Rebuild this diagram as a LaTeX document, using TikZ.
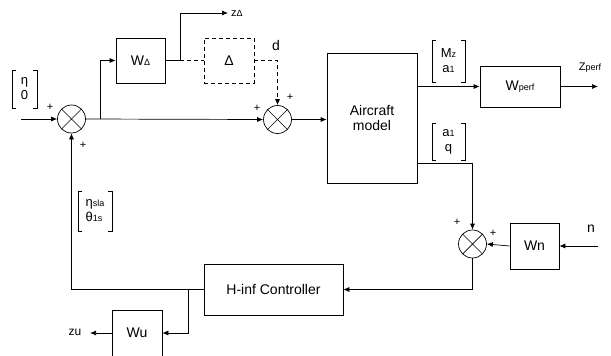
\documentclass[tikz,border=0pt]{standalone}
\usepackage{fontspec}
\setmainfont{Liberation Sans}
\usetikzlibrary{arrows.meta}
\newcommand\smsub[1]{{\fontsize{9}{9}\selectfont #1}}
\newcommand\brk[1]{%
  \draw[line width=0.6pt] ([xshift=4pt]#1.north west) -- (#1.north west) -- (#1.south west) -- ([xshift=4pt]#1.south west);
  \draw[line width=0.6pt] ([xshift=-4pt]#1.north east) -- (#1.north east) -- (#1.south east) -- ([xshift=-4pt]#1.south east);}
\begin{document}
\begin{tikzpicture}[x=1pt,y=-1pt,
  every node/.style={font=\fontsize{14}{15}\selectfont},
  blk/.style={draw,line width=0.7pt,inner sep=0pt},
  sum/.style={draw,circle,line width=0.7pt,minimum size=28pt,inner sep=0pt,
    path picture={\draw[line width=0.7pt] (path picture bounding box.north west) -- (path picture bounding box.south east)
      (path picture bounding box.north east) -- (path picture bounding box.south west);}},
  vec/.style={inner sep=0pt,align=center,font=\fontsize{13}{15}\selectfont},
  lbl/.style={inner sep=0pt,font=\fontsize{11}{12}\selectfont},
  wire/.style={line width=0.7pt},
  arr/.style={wire,-{Latex[length=6pt,width=5pt]}},
  dwire/.style={wire,dash pattern=on 4pt off 3pt}]
\useasboundingbox (0,0) rectangle (611,356);
% nodes
\node[sum] (s1) at (71.5,119) {};
\node[sum] (s2) at (277.5,119.5) {};
\node[sum] (s3) at (472.5,244) {};
\node[blk,minimum width=49pt,minimum height=45pt] (wd) at (140.5,60.5) {W\smsub{Δ}};
\node[blk,dwire,minimum width=50pt,minimum height=45pt] (dl) at (229,60.5) {Δ};
\node[blk,minimum width=90pt,minimum height=130pt,align=center] (ac) at (372,118) {Aircraft\\model};
\node[blk,minimum width=80pt,minimum height=41pt] (wp) at (520,86.5) {W\smsub{perf}};
\node[blk,minimum width=49pt,minimum height=46pt] (wn) at (534.5,246) {Wn};
\node[blk,minimum width=139pt,minimum height=51pt] (hc) at (273.5,289.5) {H-inf Controller};
\node[blk,minimum width=50pt,minimum height=46pt] (wu) at (137,333) {Wu};
% vectors
\node[vec,minimum width=25pt,minimum height=38pt] (v0) at (24.5,89) {η\\0};
\node[vec,minimum width=33pt,minimum height=42pt] (v1) at (448.5,61) {M\smsub{z}\\a\smsub{1}};
\node[vec,minimum width=33pt,minimum height=37pt] (v2) at (448.5,141.5) {a\smsub{1}\\q};
\node[vec,minimum width=34pt,minimum height=40pt,align=left] (v3) at (95,211) {η\smsub{sla}\\θ\smsub{1s}};
\brk{v0}\brk{v1}\brk{v2}\brk{v3}
% labels
\node[lbl] (pl1) at (50,107) {+};
\node[lbl] (pl2) at (83,145) {+};
\node[lbl] (pl3) at (257,108) {+};
\node[lbl] (pl4) at (290,97) {+};
\node[lbl] (pl5) at (457,222) {+};
\node[lbl] (pl6) at (493,233) {+};
\node[inner sep=0pt] (ld) at (276,45) {d};
\node[inner sep=0pt] (ln) at (591,229) {n};
\node[lbl,anchor=west] (lzd) at (231,13) {z\smsub{Δ}};
\node[lbl] (lzp) at (590,68) {Z\smsub{perf}};
\node[lbl,font=\fontsize{12}{12}\selectfont] (lzu) at (75,332) {zu};
% coordinates
\coordinate (in0) at (21,119);
\coordinate (b1) at (100,119);
\coordinate (c1) at (180,60.5);
\coordinate (zde) at (228,13);
\coordinate (zpe) at (598,86.5);
\coordinate (nin) at (598,246);
\coordinate (zue) at (90,333);
\coordinate (b2) at (188,289.5);
\coordinate (ao2) at (417,163);
% wires
\draw[arr] (in0) -- (s1.west);
\draw[arr] (s1.east) -- (s2.west);
\draw[arr] (b1) |- (wd.west);
\draw[wire] (wd.east) -- (c1);
\draw[arr] (c1) |- (zde);
\draw[dwire] (c1) -- (dl.west);
\draw[dwire,-{Latex[length=6pt,width=5pt]}] (dl.east) -| (s2.north);
\draw[arr] (s2.east) -- (s2.east -| ac.west);
\draw[arr] (ac.east |- wp.west) -- (wp.west);
\draw[arr] (wp.east) -- (zpe);
\draw[arr] (ao2) -| (s3.north);
\draw[arr] (nin) -- (wn.east);
\draw[arr] (wn.west) -- (s3.east);
\draw[arr] (s3.south) |- (hc.east);
\draw[arr] (hc.west) -| (s1.south);
\draw[arr] (b2) |- (wu.east);
\draw[arr] (wu.west) -- (zue);
\end{tikzpicture}
\end{document}
